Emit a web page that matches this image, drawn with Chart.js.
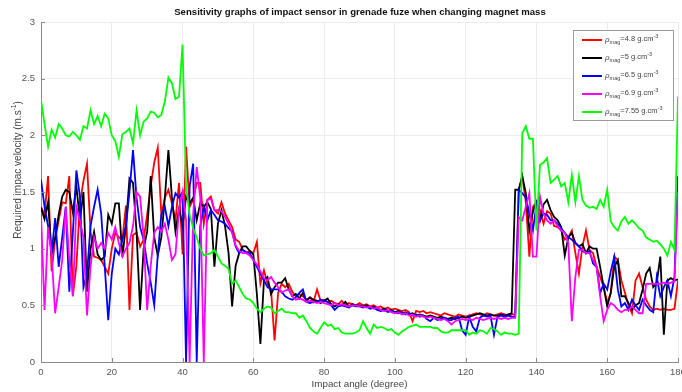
<!DOCTYPE html>
<html>
<head>
<meta charset="utf-8">
<script src="https://cdn.jsdelivr.net/npm/chart.js@4.4.1/dist/chart.umd.min.js"></script>
<style>
  html, body { margin: 0; padding: 0; background: #fff; }
  #wrap { width: 682px; height: 392px; }
</style>
</head>
<body>
<div id="wrap"><canvas id="chart" width="682" height="392"></canvas></div>
<script>
    // impact angle in degrees, one sample per degree
    const angles = Array.from({ length: 181 }, (_, i) => i);

    const xTicks = [0, 20, 40, 60, 80, 100, 120, 140, 160, 180];
    const yTicks = [0, 0.5, 1, 1.5, 2, 2.5, 3];

    const densities = ['4.8', '5', '6.5', '6.9', '7.55'];
    const colors = ['#ff0000', '#000000', '#0000ff', '#ff00ff', '#00ff00'];

    const red = [
      1.37, 1.30, 1.64, 0.80, 1.08, 1.25, 1.41, 1.40, 1.64, 0.58,
      0.85, 1.40, 1.60, 1.75, 1.15, 0.93, 0.92, 0.90, 0.84, 0.78,
      1.00, 1.14, 1.10, 1.08, 1.38, 0.46, 1.12, 1.14, 1.02, 1.08,
      1.30, 1.55, 1.76, 1.89, 1.30, 1.45, 1.52, 1.40, 1.25, 1.58,
      0.95, 1.90, 1.37, 1.43, 1.58, 1.58, 1.22, 1.43, 1.46, 1.34,
      1.31, 1.41, 1.31, 1.25, 1.19, 1.08, 1.06, 0.99, 0.96, 0.98,
      0.96, 1.06, 0.69, 0.81, 0.69, 0.64, 0.19, 0.61, 0.69, 0.66,
      0.69, 0.62, 0.58, 0.60, 0.58, 0.55, 0.57, 0.53, 0.64, 0.54,
      0.55, 0.53, 0.54, 0.52, 0.51, 0.54, 0.50, 0.52, 0.51, 0.50,
      0.52, 0.50, 0.51, 0.49, 0.50, 0.48, 0.49, 0.47, 0.48, 0.46,
      0.47, 0.46, 0.45, 0.46, 0.44, 0.36, 0.45, 0.44, 0.45, 0.43,
      0.44, 0.43, 0.42, 0.41, 0.43, 0.42, 0.41, 0.40, 0.42, 0.41,
      0.40, 0.41, 0.42, 0.43, 0.42, 0.41, 0.43, 0.42, 0.41, 0.42,
      0.43, 0.42, 0.41, 0.42, 0.42, 1.52, 1.64, 1.41, 0.93, 1.37,
      1.41, 1.34, 1.22, 1.33, 1.31, 1.20, 1.19, 1.16, 1.08, 1.10,
      1.16, 0.96, 0.78, 1.02, 1.16, 0.99, 0.96, 0.84, 0.75, 0.66,
      0.52, 0.61, 0.93, 0.90, 0.72, 0.61, 0.50, 0.43, 0.72, 0.78,
      0.66, 0.55, 0.49, 0.46, 0.47, 0.46, 0.47, 0.46, 0.46, 0.47,
      0.72
    ];

    const black = [
      1.36, 1.26, 1.41, 0.96, 1.10, 1.30, 1.46, 1.52, 1.50, 1.32,
      1.55, 1.25, 1.50, 0.62, 1.00, 1.15, 0.95, 0.90, 0.93, 1.30,
      1.22, 1.40, 1.40, 0.93, 1.20, 1.62, 1.58, 1.15, 0.46, 1.00,
      1.15, 1.64, 1.10, 0.94, 1.10, 1.45, 1.87, 1.45, 1.15, 1.35,
      1.20, 1.46, 1.40, 1.45, 1.25, 1.40, 1.37, 1.41, 1.35, 0.84,
      1.22, 1.34, 1.20, 0.96, 0.49, 0.85, 0.96, 1.02, 1.02, 0.98,
      0.95, 0.60, 0.16, 0.72, 0.75, 0.60, 0.66, 0.70, 0.70, 0.74,
      0.64, 0.58, 0.60, 0.56, 0.61, 0.54, 0.57, 0.55, 0.54, 0.52,
      0.54, 0.56, 0.51, 0.49, 0.51, 0.50, 0.53, 0.49, 0.51, 0.50,
      0.50, 0.49, 0.50, 0.48, 0.49, 0.47, 0.46, 0.47, 0.45, 0.46,
      0.44, 0.45, 0.43, 0.44, 0.42, 0.43, 0.41, 0.42, 0.41, 0.40,
      0.41, 0.40, 0.39, 0.40, 0.39, 0.38, 0.39, 0.38, 0.39, 0.40,
      0.39, 0.40, 0.41, 0.42, 0.43, 0.42, 0.41, 0.42, 0.41, 0.41,
      0.42, 0.41, 0.42, 0.43, 1.52, 1.52, 1.64, 1.49, 1.16, 1.33,
      1.41, 1.25, 1.39, 1.43, 1.34, 1.28, 1.25, 1.19, 0.94, 1.10,
      1.14, 1.05, 1.02, 1.04, 0.96, 1.02, 1.00, 1.00, 0.84, 0.66,
      0.49, 0.61, 0.84, 0.90, 0.58, 0.58, 0.52, 0.46, 0.50, 0.52,
      0.64, 0.78, 0.83, 0.66, 0.70, 0.93, 0.24, 0.72, 0.74, 0.72,
      0.73
    ];

    const blue = [
      1.61, 1.37, 1.20, 0.96, 1.27, 0.84, 1.10, 1.37, 0.62, 1.14,
      1.69, 1.46, 0.66, 0.78, 1.20, 1.37, 1.52, 1.31, 0.85, 0.37,
      0.78, 1.00, 0.95, 1.08, 1.20, 1.50, 1.87, 1.45, 1.19, 1.08,
      0.87, 0.70, 0.50, 0.95, 1.30, 1.37, 1.20, 1.37, 1.49, 1.45,
      1.50, 0.00, 1.55, 1.75, 0.00, 1.20, 1.37, 1.25, 1.34, 1.30,
      1.25, 1.24, 1.22, 1.18, 1.15, 1.02, 0.96, 0.99, 0.97, 0.96,
      0.90, 0.84, 0.78, 0.72, 0.66, 0.64, 0.64, 0.64, 0.62, 0.58,
      0.56, 0.55, 0.57, 0.61, 0.64, 0.53, 0.52, 0.53, 0.53, 0.55,
      0.54, 0.53, 0.50, 0.46, 0.49, 0.50, 0.49, 0.48, 0.50, 0.49,
      0.49, 0.48, 0.49, 0.47, 0.48, 0.46, 0.45, 0.46, 0.44, 0.45,
      0.44, 0.43, 0.44, 0.42, 0.43, 0.41, 0.42, 0.40, 0.41, 0.38,
      0.36, 0.39, 0.37, 0.38, 0.39, 0.37, 0.37, 0.39, 0.40, 0.28,
      0.24, 0.40, 0.31, 0.27, 0.39, 0.41, 0.40, 0.41, 0.24, 0.40,
      0.41, 0.40, 0.41, 0.40, 0.40, 1.52, 1.49, 1.45, 1.31, 1.16,
      1.39, 1.25, 1.31, 1.30, 1.25, 1.25, 1.22, 1.18, 1.14, 1.10,
      1.08, 1.05, 1.02, 0.98, 0.96, 0.98, 0.87, 0.84, 0.61, 0.69,
      0.64, 0.80, 0.93, 0.64, 0.49, 0.52, 0.46, 0.55, 0.50, 0.46,
      0.55, 0.50, 0.46, 0.44, 0.75, 0.58, 0.66, 0.72, 0.58, 0.75,
      1.64
    ];

    const magenta = [
      1.31, 0.46, 1.19, 0.95, 0.43, 0.66, 0.90, 1.37, 0.90, 0.58,
      1.37, 1.25, 1.10, 0.41, 0.84, 1.10, 1.00, 1.05, 1.00, 1.14,
      1.08, 1.19, 1.05, 0.93, 1.00, 1.05, 1.20, 1.50, 1.46, 1.10,
      0.46, 0.85, 1.14, 1.19, 1.15, 1.22, 1.08, 0.90, 0.95, 1.34,
      1.50, 1.25, 0.00, 1.30, 1.72, 1.45, 0.00, 1.43, 1.44, 1.34,
      1.34, 1.33, 1.28, 1.22, 1.14, 1.03, 0.98, 0.96, 0.96, 0.94,
      0.90, 0.86, 0.80, 0.74, 0.72, 0.75, 0.70, 0.66, 0.61, 0.63,
      0.64, 0.58, 0.55, 0.56, 0.55, 0.53, 0.54, 0.53, 0.52, 0.53,
      0.52, 0.51, 0.50, 0.52, 0.50, 0.51, 0.50, 0.49, 0.50, 0.50,
      0.49, 0.49, 0.48, 0.49, 0.47, 0.48, 0.46, 0.45, 0.46, 0.44,
      0.43, 0.44, 0.42, 0.43, 0.41, 0.42, 0.40, 0.41, 0.40, 0.39,
      0.40, 0.39, 0.38, 0.37, 0.38, 0.36, 0.33, 0.36, 0.37, 0.38,
      0.37, 0.38, 0.37, 0.39, 0.38, 0.37, 0.38, 0.39, 0.38, 0.39,
      0.38, 0.39, 0.38, 0.39, 0.39, 1.28, 1.25, 1.37, 1.49, 0.93,
      0.93, 1.46, 1.31, 1.25, 1.22, 1.25, 1.20, 1.16, 1.14, 1.05,
      0.36, 0.75, 0.99, 0.99, 0.96, 0.96, 0.90, 0.84, 0.58, 0.36,
      0.46, 0.52, 0.50, 0.46, 0.44, 0.46, 0.46, 0.49, 0.46, 0.43,
      0.43, 0.69, 0.69, 0.69, 0.69, 0.69, 0.70, 0.69, 0.70, 0.71,
      1.50
    ];

    const green = [
      2.31, 2.10, 1.90, 2.05, 1.98, 2.10, 2.06, 2.00, 1.99, 2.03,
      2.00, 1.96, 2.08, 2.06, 2.22, 2.10, 2.17, 2.08, 2.19, 2.15,
      2.00, 1.95, 1.81, 2.01, 2.03, 2.06, 1.93, 2.22, 2.00, 2.12,
      2.15, 2.21, 2.20, 2.16, 2.18, 2.30, 2.51, 2.46, 2.32, 2.34,
      2.80, 1.55, 1.30, 1.18, 1.10, 1.00, 0.94, 0.95, 0.96, 0.99,
      0.93, 0.87, 0.85, 0.82, 0.69, 0.72, 0.66, 0.60, 0.56, 0.55,
      0.52, 0.47, 0.44, 0.47, 0.49, 0.48, 0.43, 0.45, 0.47, 0.44,
      0.44, 0.43, 0.43, 0.39, 0.41, 0.36, 0.30, 0.27, 0.25, 0.30,
      0.35, 0.32, 0.33, 0.29, 0.30, 0.26, 0.25, 0.25, 0.25, 0.26,
      0.28, 0.36, 0.30, 0.25, 0.33, 0.30, 0.31, 0.30, 0.28, 0.29,
      0.26, 0.24, 0.27, 0.29, 0.31, 0.32, 0.33, 0.31, 0.31, 0.31,
      0.31, 0.30, 0.30, 0.27, 0.26, 0.26, 0.28, 0.28, 0.28, 0.28,
      0.28, 0.24, 0.26, 0.25, 0.28, 0.27, 0.25, 0.30, 0.29, 0.27,
      0.24, 0.26, 0.25, 0.25, 0.24, 0.25, 2.02, 2.08, 1.97, 1.97,
      1.16, 1.74, 1.76, 1.80, 1.58, 1.61, 1.64, 1.55, 1.58, 1.41,
      1.65, 1.41, 1.64, 1.43, 1.38, 1.36, 1.37, 1.35, 1.43, 1.37,
      1.52, 1.24, 1.19, 1.16, 1.24, 1.28, 1.22, 1.25, 1.22, 1.18,
      1.16, 1.10, 1.08, 1.06, 1.07, 1.04, 1.00, 0.94, 1.06, 0.99,
      2.34
    ];

    const series = [red, black, blue, magenta, green];
    const FONT = '"Liberation Sans", Arial, sans-serif';

    // inward tick marks, titles and the boxed legend with sub/superscripts
    const decorPlugin = {
      id: 'decor',
      afterDraw(chart) {
        const ctx = chart.ctx;
        const area = chart.chartArea;
        const xs = chart.scales.x;
        const ys = chart.scales.y;
        ctx.save();

        ctx.strokeStyle = '#8a8a8a';
        ctx.lineWidth = 1;
        ctx.beginPath();
        xTicks.forEach(t => {
          const px = Math.round(xs.getPixelForValue(t)) + 0.5;
          ctx.moveTo(px, area.bottom);
          ctx.lineTo(px, area.bottom - 4);
        });
        yTicks.forEach(t => {
          const py = Math.round(ys.getPixelForValue(t)) + 0.5;
          ctx.moveTo(area.left, py);
          ctx.lineTo(area.left + 4, py);
        });
        ctx.stroke();

        // title
        ctx.fillStyle = '#111';
        ctx.font = 'bold 9.6px ' + FONT;
        ctx.textAlign = 'center';
        ctx.textBaseline = 'middle';
        ctx.fillText('Sensitivity graphs of impact sensor in grenade fuze when changing magnet mass', 360, 12);

        // x title
        ctx.fillStyle = '#444';
        ctx.font = '9.8px ' + FONT;
        ctx.fillText('Impact angle (degree)', (area.left + area.right) / 2, 384);

        // y title with superscript
        ctx.save();
        ctx.translate(18, 170);
        ctx.rotate(-Math.PI / 2);
        const main = 'Required impac velocity (m.s';
        ctx.font = '10px ' + FONT;
        const w1 = ctx.measureText(main).width;
        ctx.font = '6.5px ' + FONT;
        const w2 = ctx.measureText('-1').width;
        ctx.font = '10px ' + FONT;
        const w3 = ctx.measureText(')').width;
        let sx = -(w1 + w2 + w3) / 2;
        ctx.textAlign = 'left';
        ctx.fillText(main, sx, 0);
        sx += w1;
        ctx.font = '6.5px ' + FONT;
        ctx.fillText('-1', sx, -3.5);
        sx += w2;
        ctx.font = '10px ' + FONT;
        ctx.fillText(')', sx, 0);
        ctx.restore();

        // legend
        const bx = 573.5, by = 30.5, bw = 100, bh = 90;
        ctx.fillStyle = '#fff';
        ctx.fillRect(bx, by, bw, bh);
        ctx.strokeStyle = '#9a9a9a';
        ctx.lineWidth = 1;
        ctx.strokeRect(bx, by, bw, bh);
        ctx.textAlign = 'left';
        ctx.textBaseline = 'alphabetic';
        densities.forEach((d, i) => {
          const y = 40 + i * 18;
          ctx.strokeStyle = colors[i];
          ctx.lineWidth = 2;
          ctx.beginPath();
          ctx.moveTo(582, y);
          ctx.lineTo(602, y);
          ctx.stroke();

          ctx.fillStyle = '#444';
          let tx = 605;
          ctx.font = 'italic 8px ' + FONT;
          ctx.fillText('\u03c1', tx, y + 2);
          tx += ctx.measureText('\u03c1').width;
          ctx.font = '5.5px ' + FONT;
          ctx.fillText('mag', tx, y + 4);
          tx += ctx.measureText('mag').width;
          ctx.font = '7.5px ' + FONT;
          const body = '=' + d + ' g.cm';
          ctx.fillText(body, tx, y + 1);
          tx += ctx.measureText(body).width;
          ctx.font = '5.5px ' + FONT;
          ctx.fillText('-3', tx, y - 2);
        });

        ctx.restore();
      }
    };

    const datasets = series.map((s, i) => ({
      label: densities[i],
      data: s,
      borderColor: colors[i],
      backgroundColor: colors[i],
      borderWidth: 1.8,
      pointRadius: 0,
      tension: 0,
      order: 5 - i
    }));

    const ctx = document.getElementById('chart').getContext('2d');
    const chart = new Chart(ctx, {
      type: 'line',
      data: { labels: angles, datasets: datasets },
      options: {
        responsive: false,
        animation: false,
        events: [],
        layout: { autoPadding: false, padding: { top: 22, right: 4, left: 0, bottom: 0 } },
        plugins: {
          legend: { display: false },
          title: { display: false },
          tooltip: { enabled: false }
        },
        scales: {
          x: {
            type: 'linear',
            min: 0,
            max: 180,
            afterBuildTicks: axis => { axis.ticks = xTicks.map(v => ({ value: v })); },
            afterFit: axis => {
              axis.height = 30;
              axis.paddingLeft = 0;
              axis.paddingRight = 0;
            },
            grid: { color: '#ececec', drawTicks: false },
            border: { color: '#8a8a8a' },
            ticks: {
              padding: 5,
              maxRotation: 0,
              color: '#555',
              font: { family: FONT, size: 9.5 }
            }
          },
          y: {
            min: 0,
            max: 3,
            afterBuildTicks: axis => { axis.ticks = yTicks.map(v => ({ value: v })); },
            afterFit: axis => {
              axis.width = 41;
              axis.paddingTop = 0;
              axis.paddingBottom = 0;
            },
            grid: { color: '#ececec', drawTicks: false },
            border: { color: '#8a8a8a' },
            ticks: {
              padding: 6,
              color: '#555',
              font: { family: FONT, size: 9.5 },
              callback: v => String(v)
            }
          }
        }
      },
      plugins: [decorPlugin]
    });
</script>
</body>
</html>
